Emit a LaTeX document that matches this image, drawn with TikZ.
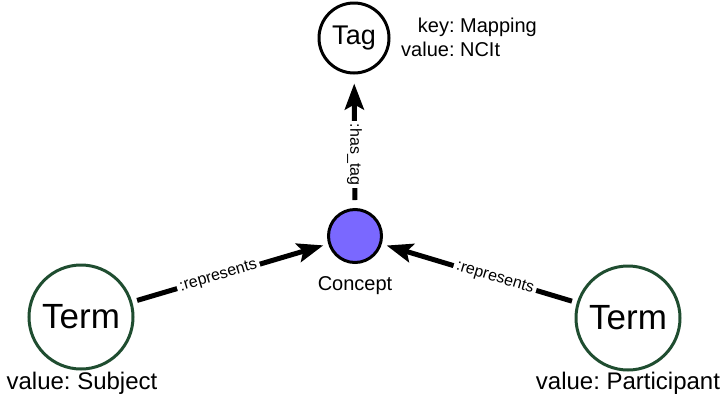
\documentclass[tikz,border=0pt]{standalone}
\usepackage{fontspec}
\setmainfont{Liberation Sans}
\usetikzlibrary{arrows.meta}
\definecolor{termgreen}{RGB}{31,77,48}
\definecolor{conceptblue}{RGB}{122,104,255}
\frenchspacing

\begin{document}
\begin{tikzpicture}[x=1pt, y=-1pt]
\tikzset{tagnode/.style={circle, draw=black, line width=3pt, minimum size=70pt, inner sep=0pt, font=\fontsize{27}{32}\selectfont}}
\tikzset{concept/.style={circle, draw=black, fill=conceptblue, line width=3pt, minimum size=53pt, inner sep=0pt}}
\tikzset{term/.style={circle, draw=termgreen, line width=3pt, minimum size=104pt, inner sep=0pt, font=\fontsize{35}{42}\selectfont}}
\tikzset{rel/.style={line width=5pt, -{Stealth[length=26pt,width=19pt,inset=5pt]}, shorten <=5pt, shorten >=5pt}}
\tikzset{rellabel/.style={fill=white, inner sep=3pt, font=\fontsize{16}{19}\selectfont}}
\useasboundingbox (0,0) rectangle (728,405);

\node[tagnode] (tag) at (354,38) {Tag};
\node[anchor=west, inner sep=0pt, font=\fontsize{20}{24}\selectfont] (tagprops) at (401,40) {\begin{tabular}{@{}r@{ }l@{}}key: & Mapping\\ value: & NCIt\end{tabular}};

\node[concept] (concept) at (355,236) {};
\node[anchor=base, inner sep=0pt, font=\fontsize{20}{24}\selectfont] (conceptlabel) at (355,290) {Concept};

\node[term] (subject) at (81,317) {Term};
\node[term] (participant) at (628,318) {Term};
\node[anchor=base, inner sep=0pt, font=\fontsize{24}{28}\selectfont] (subjectvalue) at (82,389) {value: Subject};
\node[anchor=base, inner sep=0pt, font=\fontsize{24}{28}\selectfont] (participantvalue) at (628,389) {value: Participant};

\draw[rel, shorten <=8pt, shorten >=9pt] (concept) -- node[rellabel, pos=0.4, rotate=-90] {:has\_tag} (tag);
\draw[rel] (subject) -- node[rellabel, sloped, pos=0.44] {:represents} (concept);
\draw[rel] (participant) -- node[rellabel, sloped, pos=0.42] {:represents} (concept);
\end{tikzpicture}
\end{document}
